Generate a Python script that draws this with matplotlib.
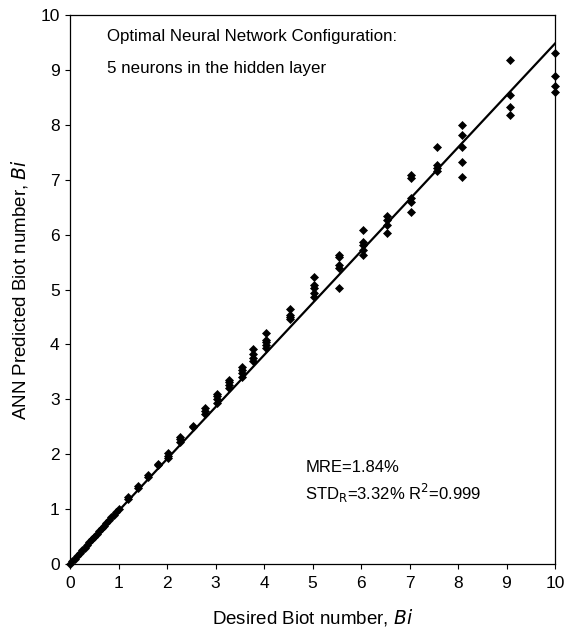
import matplotlib
matplotlib.use("Agg")
import matplotlib.pyplot as plt

plt.rcParams['font.family'] = ['Liberation Sans', 'DejaVu Sans']

# Dense region (0..1)
x_small = [0.00, 0.05, 0.10, 0.15, 0.20, 0.25, 0.30, 0.35, 0.40, 0.45, 0.50,
           0.55, 0.60, 0.65, 0.70, 0.75, 0.80, 0.85, 0.90, 0.95, 1.00]
y_small = [0.00, 0.05, 0.10, 0.15, 0.20, 0.25, 0.30, 0.35, 0.40, 0.45, 0.50,
           0.55, 0.60, 0.65, 0.70, 0.75, 0.80, 0.85, 0.90, 0.95, 1.00]

# Discrete desired values and ANN predictions (columns)
desired = [1.20, 1.41, 1.61, 1.82, 2.03, 2.27, 2.53, 2.78, 3.04, 3.28, 3.54,
           3.78, 4.04, 4.54, 5.03, 5.55, 6.04, 6.53, 7.04, 7.57, 8.08, 9.07, 10.0]
predicted = [
    [1.18, 1.22],
    [1.38, 1.42],
    [1.58, 1.62],
    [1.80, 1.83],
    [1.93, 1.97, 2.02],
    [2.23, 2.27, 2.32],
    [2.50, 2.52],
    [2.74, 2.79, 2.84],
    [2.93, 3.00, 3.06, 3.10],
    [3.20, 3.26, 3.31, 3.36],
    [3.41, 3.48, 3.53, 3.58],
    [3.69, 3.75, 3.82, 3.91],
    [3.93, 3.99, 4.04, 4.08, 4.21],
    [4.46, 4.50, 4.54, 4.64],
    [4.87, 4.93, 5.02, 5.08, 5.23],
    [5.02, 5.40, 5.45, 5.60, 5.63],
    [5.63, 5.72, 5.81, 5.87, 6.08],
    [6.03, 6.17, 6.27, 6.33],
    [6.42, 6.60, 6.67, 7.03, 7.09],
    [7.15, 7.21, 7.27, 7.60],
    [7.05, 7.33, 7.60, 7.81, 8.00],
    [8.18, 8.33, 8.54, 9.18],
    [8.60, 8.70, 8.88, 9.30],
]

fit_x = [0.0, 10.0]
fit_y = [0.02, 9.48]

xticks = [0, 1, 2, 3, 4, 5, 6, 7, 8, 9, 10]
yticks = [0, 1, 2, 3, 4, 5, 6, 7, 8, 9, 10]

xs = list(x_small)
ys = list(y_small)
for d, p in zip(desired, predicted):
    for v in p:
        xs.append(d)
        ys.append(v)

fig = plt.figure(figsize=(5.65, 6.28), dpi=100)
ax = fig.add_axes([70/565, 1-564/628, 485/565, 549/628])

ax.plot(xs, ys, linestyle='none', marker='D', markersize=4.5,
        color='black', markeredgewidth=0.5, clip_on=False, zorder=3)
ax.plot(fit_x, fit_y, color='black', linewidth=1.6, zorder=2)

ax.set_xlim(0, 10)
ax.set_ylim(0, 10)
ax.set_xticks(xticks)
ax.set_yticks(yticks)
ax.tick_params(direction='out', length=3.5, width=0.8, labelsize=12.5)
ax.tick_params(axis='x', pad=5)
ax.tick_params(axis='y', pad=4)
for s in ax.spines.values():
    s.set_linewidth(0.9)

ax.set_xlabel('Desired Biot number, $\\mathit{Bi}$', fontsize=13.5, labelpad=12)
ax.set_ylabel('ANN Predicted Biot number, $\\mathit{Bi}$', fontsize=13.5, labelpad=7)

ax.text(0.76, 9.6, 'Optimal Neural Network Configuration:', fontsize=12.2,
        va='center', ha='left')
ax.text(0.76, 9.03, '5 neurons in the hidden layer', fontsize=12.2,
        va='center', ha='left')
ax.text(4.85, 1.75, 'MRE=1.84%', fontsize=12, va='center', ha='left')
ax.text(4.85, 1.29, 'STD$_\\mathrm{R}$=3.32% R$^2$=0.999', fontsize=12,
        va='center', ha='left')

fig.savefig('out.png', dpi=100)
